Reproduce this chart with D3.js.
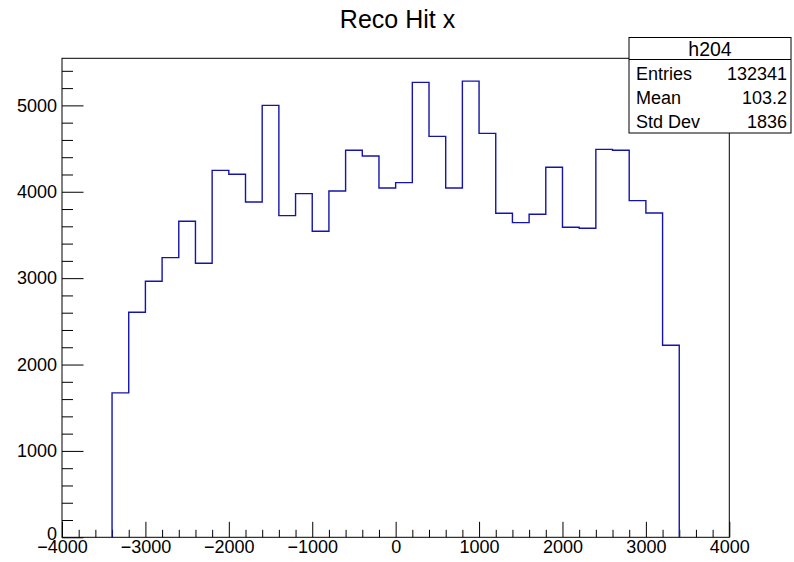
<!DOCTYPE html>
<html>
<head>
<meta charset="utf-8">
<script src="https://cdn.jsdelivr.net/npm/d3@7"></script>
<style>
  html, body { margin: 0; padding: 0; background: #fff; }
  text { font-family: "Liberation Sans", Arial, sans-serif; fill: #000; }
</style>
</head>
<body>
<svg id="hist" width="794" height="562" viewBox="0 0 794 562"></svg>
<script>
// bin lower edges (width 200) and contents
const binEdges = [-3400, -3200, -3000, -2800, -2600, -2400, -2200, -2000, -1800, -1600,
                  -1400, -1200, -1000, -800, -600, -400, -200, 0, 200, 400,
                  600, 800, 1000, 1200, 1400, 1600, 1800, 2000, 2200, 2400,
                  2600, 2800, 3000, 3200, 3400];
const binCounts = [1672, 2606, 2964, 3238, 3658, 3172, 4248, 4202, 3882, 5000,
                   3724, 3979, 3543, 4009, 4480, 4414, 4044, 4106, 5266, 4641,
                   4044, 5281, 4676, 3751, 3643, 3739, 4283, 3589, 3577, 4491,
                   4480, 3898, 3755, 2224];
const xTicks = [-4000, -3000, -2000, -1000, 0, 1000, 2000, 3000, 4000];
const yTicks = [0, 1000, 2000, 3000, 4000, 5000];
const statLabels = ["Entries", "Mean", "Std Dev"];
const statValues = ["132341", "103.2", "1836"];

const svg = d3.select("#hist");
const frame = { left: 62, right: 729.3, top: 58.3, bottom: 537.3 };

const x = d3.scaleLinear().domain([-4000, 4000]).range([frame.left, frame.right]);
const y = d3.scaleLinear().domain([0, 5545]).range([frame.bottom, frame.top]);

const fmt = d => (d < 0 ? "\u2212" + Math.abs(d) : String(d));

// title
svg.append("text")
    .attr("x", 397.5)
    .attr("y", 28)
    .attr("text-anchor", "middle")
    .attr("font-size", "25px")
    .text("Reco Hit x");

// frame
svg.append("rect")
    .attr("x", frame.left)
    .attr("y", frame.top)
    .attr("width", frame.right - frame.left)
    .attr("height", frame.bottom - frame.top)
    .attr("fill", "none")
    .attr("stroke", "#000")
    .attr("stroke-width", 1);

// x axis: minor ticks, then major ticks with labels
const xMinor = d3.range(-4000, 4001, 200).filter(v => !xTicks.includes(v));
svg.append("g")
    .attr("transform", `translate(0,${frame.bottom})`)
    .call(d3.axisBottom(x).tickValues(xMinor).tickSize(-7.5).tickFormat(""))
    .call(g => g.select(".domain").remove());
svg.append("g")
    .attr("class", "xaxis")
    .attr("transform", `translate(0,${frame.bottom})`)
    .call(d3.axisBottom(x).tickValues(xTicks).tickSize(-15.5).tickPadding(3).tickFormat(fmt))
    .call(g => g.select(".domain").remove());

// y axis
const yMinor = d3.range(0, 5500, 200).filter(v => !yTicks.includes(v));
svg.append("g")
    .attr("transform", `translate(${frame.left},0)`)
    .call(d3.axisLeft(y).tickValues(yMinor).tickSize(-11).tickFormat(""))
    .call(g => g.select(".domain").remove());
svg.append("g")
    .attr("class", "yaxis")
    .attr("transform", `translate(${frame.left},0)`)
    .call(d3.axisLeft(y).tickValues(yTicks).tickSize(-21.5).tickPadding(5).tickFormat(fmt))
    .call(g => g.select(".domain").remove());

svg.selectAll(".xaxis text, .yaxis text")
    .attr("font-size", "18px")
    .attr("font-family", "Liberation Sans, Arial, sans-serif")
    .attr("fill", "#000");
svg.selectAll(".tick line").attr("stroke", "#000");

// the y "0" sits right on top of the x labels; lift it a little
svg.selectAll(".yaxis .tick text").filter(d => d === 0).attr("dy", "0.1em");

// histogram outline as steps
const pts = [[binEdges[0], 0]];
binCounts.forEach((c, i) => {
    pts.push([binEdges[i], c]);
    pts.push([binEdges[i + 1], c]);
});
pts.push([binEdges[binEdges.length - 1], 0]);

svg.append("path")
    .datum(pts)
    .attr("fill", "none")
    .attr("stroke", "#1414ac")
    .attr("stroke-width", 1.4)
    .attr("d", d3.line().x(d => x(d[0])).y(d => y(d[1])));

// stats box
const box = { x0: 629, x1: 791, y0: 37.5, ySep: 59.5, y1: 133 };
const stats = svg.append("g");
stats.append("rect")
    .attr("x", box.x0)
    .attr("y", box.y0)
    .attr("width", box.x1 - box.x0)
    .attr("height", box.y1 - box.y0)
    .attr("fill", "#fff")
    .attr("stroke", "#000")
    .attr("stroke-width", 1);
stats.append("line")
    .attr("x1", box.x0).attr("x2", box.x1)
    .attr("y1", box.ySep).attr("y2", box.ySep)
    .attr("stroke", "#000");
stats.append("text")
    .attr("x", (box.x0 + box.x1) / 2)
    .attr("y", 56)
    .attr("text-anchor", "middle")
    .attr("font-size", "19.5px")
    .text("h204");
statLabels.forEach((lab, i) => {
    const by = 80 + i * 24;
    stats.append("text")
        .attr("x", 636)
        .attr("y", by)
        .attr("font-size", "18px")
        .text(lab);
    stats.append("text")
        .attr("x", 787)
        .attr("y", by)
        .attr("text-anchor", "end")
        .attr("font-size", "18px")
        .text(statValues[i]);
});
</script>
</body>
</html>
